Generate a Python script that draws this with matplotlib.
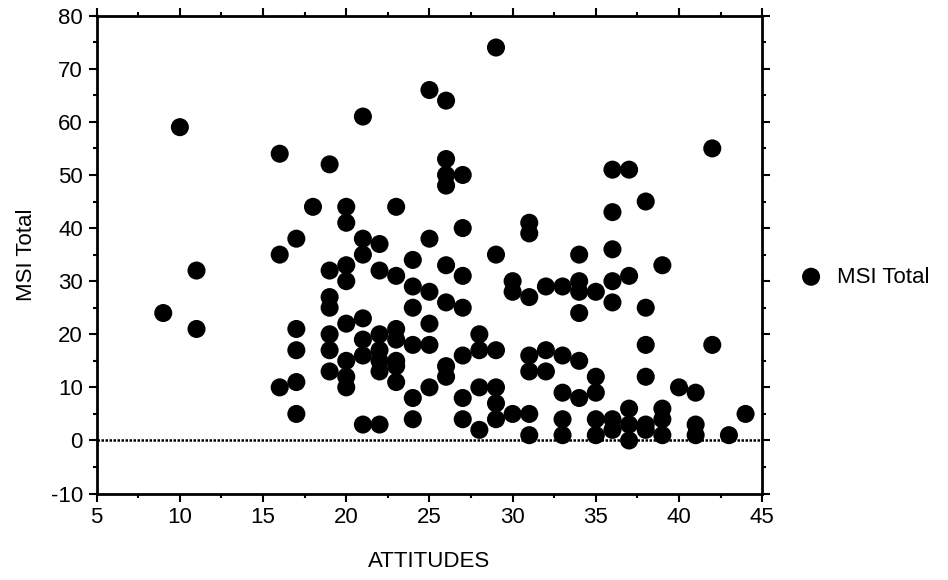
import matplotlib
matplotlib.use("Agg")
import matplotlib.pyplot as plt
from matplotlib.ticker import MultipleLocator

plt.rcParams['font.family'] = ['Liberation Sans', 'DejaVu Sans']
plt.rcParams['axes.unicode_minus'] = False

# ATTITUDES score and MSI Total per subject
attitudes = [9, 10, 11, 11,
             16, 16, 16,
             17, 17, 17, 17, 17,
             18,
             19, 19, 19, 19, 19, 19, 19,
             20, 20, 20, 20, 20, 20, 20, 20,
             21, 21, 21, 21, 21, 21, 21,
             22, 22, 22, 22, 22, 22, 22,
             23, 23, 23, 23, 23, 23, 23,
             24, 24, 24, 24, 24, 24,
             25, 25, 25, 25, 25, 25,
             26, 26, 26, 26, 26, 26, 26, 26,
             27, 27, 27, 27, 27, 27, 27,
             28, 28, 28, 28,
             29, 29, 29, 29, 29, 29,
             30, 30, 30,
             31, 31, 31, 31, 31, 31, 31,
             32, 32, 32,
             33, 33, 33, 33, 33,
             34, 34, 34, 34, 34, 34,
             35, 35, 35, 35, 35,
             36, 36, 36, 36, 36, 36, 36,
             37, 37, 37, 37, 37,
             38, 38, 38, 38, 38, 38,
             39, 39, 39, 39,
             40,
             41, 41, 41,
             42, 42,
             43,
             44]
msi_total = [24, 59, 32, 21,
             54, 35, 10,
             38, 21, 17, 11, 5,
             44,
             52, 32, 27, 25, 20, 17, 13,
             44, 41, 33, 30, 22, 15, 12, 10,
             61, 38, 35, 23, 19, 16, 3,
             37, 32, 20, 17, 15, 13, 3,
             44, 31, 21, 19, 15, 14, 11,
             34, 29, 25, 18, 8, 4,
             66, 38, 28, 22, 18, 10,
             64, 53, 50, 48, 33, 26, 14, 12,
             50, 40, 31, 25, 16, 8, 4,
             20, 17, 10, 2,
             74, 35, 17, 10, 7, 4,
             30, 28, 5,
             41, 39, 27, 16, 13, 5, 1,
             29, 17, 13,
             29, 16, 9, 4, 1,
             35, 30, 28, 24, 15, 8,
             28, 12, 9, 4, 1,
             51, 43, 36, 30, 26, 4, 2,
             51, 31, 6, 3, 0,
             45, 25, 18, 12, 3, 2,
             33, 6, 4, 1,
             10,
             9, 3, 1,
             55, 18,
             1,
             5]

fig = plt.figure(figsize=(9.48, 5.8), dpi=100)
ax = fig.add_axes([0.102, 0.149, 0.702, 0.824])

ax.axhline(0, color='black', lw=1.8, ls=(0, (1, 0.6)), zorder=1)
ax.scatter(attitudes, msi_total, s=13**2, color='black', edgecolors='none',
           zorder=3, label='MSI Total')

ax.set_xlim(5, 45)
ax.set_ylim(-10, 80)
ax.xaxis.set_major_locator(MultipleLocator(5))
ax.xaxis.set_minor_locator(MultipleLocator(2.5))
ax.yaxis.set_major_locator(MultipleLocator(10))
ax.yaxis.set_minor_locator(MultipleLocator(5))
ax.tick_params(which='both', direction='out', top=True, right=True,
               width=1.5, labelsize=16)
ax.tick_params(which='major', length=6, pad=4)
ax.tick_params(which='minor', length=3)
for sp in ax.spines.values():
    sp.set_linewidth(2)

ax.set_xlabel('ATTITUDES', fontsize=16, labelpad=16)
ax.set_ylabel('MSI Total', fontsize=16, labelpad=10)

ax.legend(loc='center left', bbox_to_anchor=(1.01, 0.453), frameon=False,
          fontsize=16, handletextpad=0.15, markerscale=1.0)

fig.savefig('out.png', dpi=100)
